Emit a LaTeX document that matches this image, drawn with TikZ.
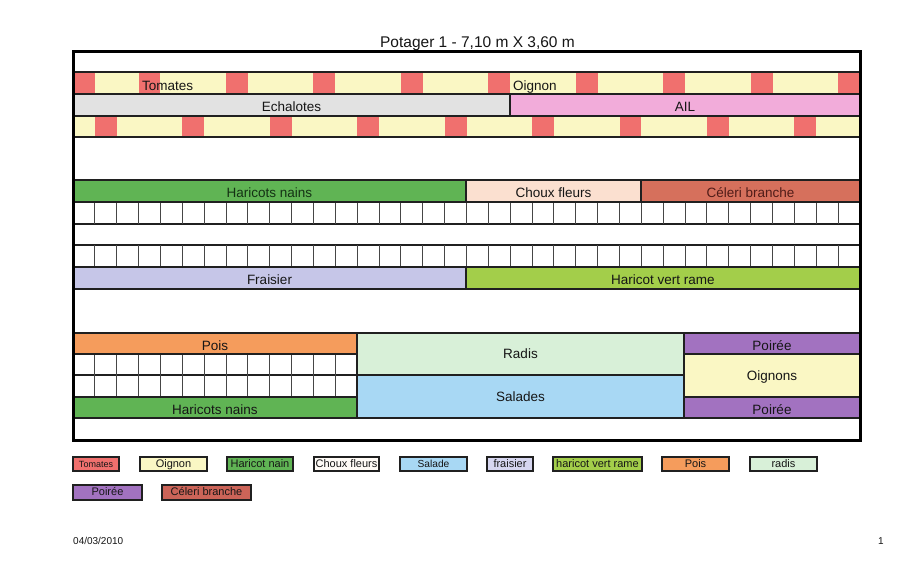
\documentclass[tikz,border=0pt]{standalone}
\usepackage{fontspec}
\setmainfont{Liberation Sans}
\definecolor{tomc}{RGB}{240,112,110}
\definecolor{yelc}{RGB}{250,247,196}
\definecolor{echc}{RGB}{226,226,226}
\definecolor{ailc}{RGB}{242,172,218}
\definecolor{hnc}{RGB}{96,180,84}
\definecolor{cfc}{RGB}{251,224,208}
\definecolor{celc}{RGB}{214,112,92}
\definecolor{frac}{RGB}{198,198,232}
\definecolor{hvrc}{RGB}{163,206,74}
\definecolor{poisc}{RGB}{245,156,92}
\definecolor{radc}{RGB}{216,240,216}
\definecolor{salc}{RGB}{168,216,244}
\definecolor{poic}{RGB}{162,114,192}
\definecolor{lcfc}{RGB}{255,251,246}
\definecolor{lfrac}{RGB}{214,214,240}
\definecolor{lcelc}{RGB}{204,100,88}
\definecolor{linec}{RGB}{32,32,32}
\definecolor{gridc}{RGB}{70,70,70}
\definecolor{txtc}{RGB}{22,22,22}
\newcommand\potbox[8][bed]{\node[#1,fill=#7,minimum width={#5pt-#3pt},minimum height={#6pt-#4pt}] (#2) at (#3,#4) {#8};}
\newcommand\cellw{21.861}
\begin{document}
\begin{tikzpicture}[x=1pt,y=-1pt,
  bed/.style={draw=linec, line width=2.2pt, inner sep=0pt, outer sep=0pt, anchor=north west, text=txtc, font=\fontsize{13.5}{16}\selectfont, text height=13pt, text depth=0pt},
  bigbed/.style={bed, text height=9pt},
  area/.style={draw=linec, line width=2.2pt, inner sep=0pt, outer sep=0pt, anchor=north west},
  cellline/.style={draw=gridc, line width=1pt},
  legbox/.style={draw=linec, line width=2.6pt, inner sep=0pt, outer sep=0pt, anchor=north west, text=txtc, font=\fontsize{11}{13}\selectfont, text height=6.5pt, text depth=0pt},
  rowtext/.style={anchor=base west, inner sep=0pt, text=txtc, font=\fontsize{13.5}{16}\selectfont},
  frame/.style={draw=black, line width=3pt},
]
\useasboundingbox[fill=white] (0,0) rectangle (922,565);

% title
\node[anchor=base, inner sep=0pt, text=txtc, font=\fontsize{15.5}{18}\selectfont] (title) at (477.5,47) {Potager 1 - 7,10 m X 3,60 m};

% checkered rows (fills)
\fill[yelc] (73,72) rectangle (860,94);
\fill[yelc] (73,116) rectangle (860,137);
\fill[tomc] (73,72) rectangle ({73+\cellw},94);
\foreach \i in {3,7,...,35} \fill[tomc] ({73+\cellw*\i},72) rectangle ({73+\cellw*(\i+1)},94);
\foreach \i in {1,5,...,33} \fill[tomc] ({73+\cellw*\i},116) rectangle ({73+\cellw*(\i+1)},137);

% row areas
\node[area, minimum width=787pt, minimum height=21pt] (r0) at (73,51) {};
\node[area, minimum width=787pt, minimum height=22pt] (r1) at (73,72) {};
\node[area, minimum width=787pt, minimum height=21pt] (r3) at (73,116) {};
\node[area, minimum width=787pt, minimum height=43pt] (r4) at (73,137) {};
\node[area, minimum width=787pt, minimum height=22pt] (g1) at (73,202) {};
\node[area, minimum width=787pt, minimum height=21pt] (r7) at (73,224) {};
\node[area, minimum width=787pt, minimum height=22pt] (g2) at (73,245) {};
\node[area, minimum width=787pt, minimum height=44pt] (r10) at (73,289) {};
\node[area, minimum width=284pt, minimum height=21pt] (g3) at (73,354) {};
\node[area, minimum width=284pt, minimum height=22pt] (g4) at (73,375) {};
\node[area, minimum width=787pt, minimum height=22pt] (r12) at (73,418) {};

\node[rowtext] (tom) at (142,90) {Tomates};
\node[rowtext] (oig) at (513,90) {Oignon};

% grid lines
\foreach \i in {1,...,35} {
  \draw[cellline] ({73+\cellw*\i},202) -- ({73+\cellw*\i},224);
  \draw[cellline] ({73+\cellw*\i},245) -- ({73+\cellw*\i},267);
}
\foreach \i in {1,...,12} {
  \draw[cellline] ({73+\cellw*\i},354) -- ({73+\cellw*\i},397);
}

% beds
\potbox{ech}{73}{94}{510}{116}{echc}{Echalotes}
\potbox{ail}{510}{94}{860}{116}{ailc}{AIL}
\potbox{hn1}{73}{180}{466}{202}{hnc}{\color[RGB]{20,50,20}Haricots nains}
\potbox{cf}{466}{180}{641}{202}{cfc}{Choux fleurs}
\potbox{cel}{641}{180}{860}{202}{celc}{\color[RGB]{80,28,24}Céleri branche}
\potbox{fra}{73}{267}{466}{289}{frac}{Fraisier}
\potbox{hvr}{466}{267}{860}{289}{hvrc}{Haricot vert rame}
\potbox{pois}{73}{333}{357}{354}{poisc}{Pois}
\potbox{hn2}{73}{397}{357}{418}{hnc}{Haricots nains}
\potbox[bigbed]{rad}{357}{333}{684}{375}{radc}{Radis}
\potbox[bigbed]{sal}{357}{375}{684}{418}{salc}{Salades}
\potbox{poi1}{684}{333}{860}{354}{poic}{Poirée}
\potbox[bigbed]{oigs}{684}{354}{860}{397}{yelc}{Oignons}
\potbox{poi2}{684}{397}{860}{418}{poic}{Poirée}

% frame
\node[frame, inner sep=0pt, outer sep=0pt, anchor=north west, minimum width=787pt, minimum height=389.5pt] (frm) at (73,51) {};

% legend
\potbox[legbox]{lTom}{73}{457}{119}{471}{tomc}{\fontsize{9}{10}\selectfont Tomates}
\potbox[legbox]{lOig}{140}{457}{207}{471}{yelc}{Oignon}
\potbox[legbox]{lHn}{227}{457}{293}{471}{hnc}{Haricot nain}
\potbox[legbox]{lCf}{314}{457}{379}{471}{lcfc}{Choux fleurs}
\potbox[legbox]{lSal}{400}{457}{467}{471}{salc}{\fontsize{10.2}{12}\selectfont Salade}
\potbox[legbox]{lFra}{487}{457}{533}{471}{lfrac}{fraisier}
\potbox[legbox]{lHvr}{553}{457}{642}{471}{hvrc}{haricot vert rame}
\potbox[legbox]{lPois}{662}{457}{729}{471}{poisc}{Pois}
\potbox[legbox]{lRad}{750}{457}{817}{471}{radc}{radis}
\potbox[legbox]{lPoi}{73}{485}{142}{500}{poic}{Poirée}
\potbox[legbox]{lCel}{162}{485}{251}{500}{lcelc}{Céleri branche}

% footer
\node[anchor=base west, inner sep=0pt, text=txtc, font=\fontsize{10}{12}\selectfont] (date) at (73,544.5) {04/03/2010};
\node[anchor=base east, inner sep=0pt, text=txtc, font=\fontsize{10}{12}\selectfont] (page) at (884,544.5) {1};
\end{tikzpicture}
\end{document}
